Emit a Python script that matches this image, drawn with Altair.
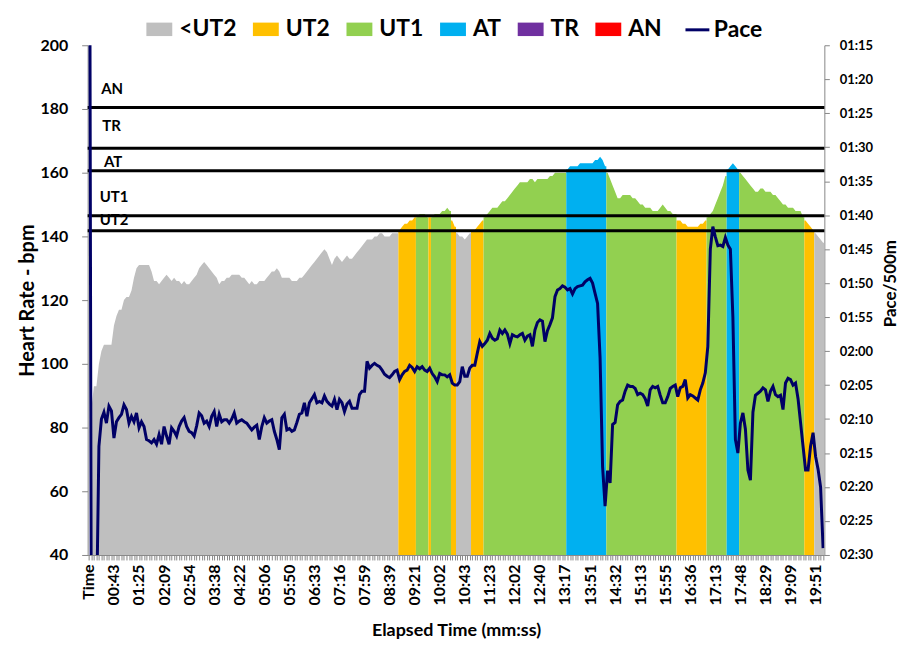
import json
import altair as alt
import pandas as pd

# ---------------- data ----------------
time_labels = ["Time", "00:43", "01:25", "02:09", "02:54", "03:38", "04:22", "05:06", "05:50", "06:33",
               "07:16", "07:59", "08:39", "09:21", "10:02", "10:43", "11:23", "12:02", "12:40", "13:17",
               "13:51", "14:32", "15:13", "15:55", "16:36", "17:13", "17:48", "18:29", "19:09", "19:51"]

hr = [
    0, 86, 93, 93, 100, 104, 106, 106, 106, 106,
    112, 115, 117, 117, 120, 121, 121, 123, 127, 130,
    131, 131, 131, 131, 131, 129, 126, 126, 125, 126,
    127, 128, 127, 126, 127, 126, 126, 125, 126, 125,
    125, 126, 127, 128, 130, 131, 132, 131, 130, 129,
    128, 127, 125, 126, 126, 127, 127, 128, 128, 128,
    128, 127, 127, 126, 125, 126, 125, 125, 126, 126,
    126, 127, 128, 129, 129, 130, 129, 127, 127, 127,
    127, 126, 126, 126, 127, 127, 128, 129, 130, 131,
    132, 133, 134, 135, 136, 135, 133, 131, 133, 134,
    133, 132, 133, 134, 133, 133, 134, 135, 136, 137,
    138, 139, 139, 139, 140, 140, 141, 141, 140, 140,
    140, 141, 141, 141, 142, 143, 144, 144, 145, 145,
    146, 146, 147, 147, 147, 146, 146, 146, 147, 147,
    147, 148, 148, 149, 148, 145, 143, 141, 140, 140,
    139, 140, 141, 142, 142, 143, 144, 145, 146, 147,
    148, 149, 149, 149, 150, 151, 151, 152, 153, 154,
    155, 156, 157, 157, 157, 157, 158, 158, 157, 158,
    158, 158, 158, 158, 159, 159, 160, 160, 160, 160,
    160, 161, 162, 162, 162, 162, 163, 163, 163, 163,
    163, 163, 164, 164, 165, 164, 162, 160, 158, 156,
    154, 152, 152, 153, 153, 153, 153, 152, 152, 151,
    150, 150, 149, 149, 149, 148, 148, 148, 149, 150,
    149, 148, 148, 147, 147, 145, 145, 144, 144, 143,
    143, 143, 143, 143, 144, 144, 145, 146, 147, 148,
    150, 152, 154, 156, 159, 161, 162, 163, 162, 161,
    160, 159, 158, 157, 156, 155, 154, 154, 155, 155,
    154, 154, 154, 153, 153, 152, 151, 150, 150, 149,
    149, 149, 148, 148, 148, 146, 145, 144, 143, 142,
    141, 140, 139, 138,
]

# pace per 500 m, in seconds
pace = [
    0, 170, 165, 160, 134, 130, 129, 130.6, 128.1, 128.8,
    132.8, 130.4, 129.8, 129.3, 127.9, 128.6, 130.6, 129.6, 130.4, 129.1,
    131.3, 130.4, 131.1, 133, 133.2, 133.5, 133, 133.7, 132.3, 133.7,
    131.1, 132.5, 133.7, 131.3, 131.8, 132.5, 131.1, 130.3, 129.8, 131.1,
    131.8, 132, 132.5, 131, 129.1, 129.5, 130.6, 130.3, 131.1, 129.6,
    128.9, 131.1, 129.3, 130.4, 130.1, 130.1, 130.6, 130, 129.1, 130.6,
    130.3, 130.1, 130.4, 130.6, 131.1, 131.6, 131.2, 130.9, 133, 131.1,
    129.8, 130.6, 130.3, 130.1, 131.8, 133, 134.5, 129.8, 129.3, 131.6,
    131.4, 131.8, 131.6, 130.5, 129.3, 129.1, 127.6, 129.6, 127.6, 127,
    126.4, 127.6, 127.4, 127.6, 126.6, 127.4, 127.8, 128.1, 127.1, 128.6,
    127.1, 127.6, 128.9, 127.8, 127.4, 128.4, 128.4, 128.4, 126.4, 125.9,
    125.9, 121.5, 122.5, 122.1, 121.8, 122.1, 122.3, 122.8, 123.4, 123.7,
    123.9, 123.5, 123, 122.8, 124.2, 123.5, 123, 122.8, 122.1, 122.4,
    123, 122.3, 122.6, 122.3, 122.8, 123, 122.5, 123.3, 123.8, 124.5,
    123.3, 123.5, 123.5, 123.8, 123.5, 124.7, 125, 125, 124.5, 122.3,
    123.7, 123.7, 122.5, 122.1, 122.1, 120.3, 118.6, 119.3, 118.9, 118.4,
    117.4, 118.1, 118.4, 118.2, 116.9, 117.4, 116.9, 117.5, 118.9, 117.6,
    117.8, 117.9, 117.6, 117.4, 118.4, 117.8, 117.6, 119.3, 116.9, 115.8,
    115.4, 115.6, 118.6, 117, 116.1, 115.1, 112, 111, 110.8, 110.4,
    110.6, 111, 110.8, 111.6, 110.8, 110.5, 110.4, 110.3, 109.8, 109.5,
    109.3, 110, 111.5, 113, 121, 137, 142.8, 137.6, 139.4, 130.8,
    130.5, 127.9, 127.4, 127.2, 125.9, 125, 125.2, 125.2, 125.5, 126.4,
    126.2, 126.4, 127, 128.1, 125.7, 125.2, 125.4, 125.2, 126.5, 127.6,
    127.6, 126.7, 125.5, 125.2, 125, 126.7, 125.4, 125.2, 124.2, 126.9,
    126.4, 126.6, 126.9, 127.2, 125.7, 124.7, 123.2, 119.3, 105, 101.7,
    103.2, 104.5, 104.4, 104.6, 103.3, 104.4, 105, 115, 133, 135,
    130.6, 129.1, 131.5, 137.5, 139, 129, 126.5, 126.2, 125.9, 125.4,
    125.7, 127.4, 125.9, 125.2, 126.4, 126.7, 126.5, 128.6, 124.7, 124,
    124.2, 125, 124.7, 127, 130.5, 134, 137.5, 137.5, 134, 132,
    135.5, 137.4, 140, 149,
]

# heart-rate zone of each stretch of samples (first sample index of each stretch)
zone_starts = [0, 124, 131, 136, 137, 145, 147, 153, 158, 191, 207, 235, 247, 255, 260, 286, 290]
zone_of_stretch = ["<UT2", "UT2", "UT1", "UT2", "UT1", "UT2", "<UT2", "UT2", "UT1",
                   "AT", "UT1", "UT2", "UT1", "AT", "UT1", "UT2", "<UT2"]

zone_names = ["<UT2", "UT2", "UT1", "AT", "TR", "AN"]
zone_colors = ["#BFBFBF", "#FFC000", "#92D050", "#00B0F0", "#7030A0", "#FF0000"]

threshold_names = ["AN", "TR", "AT", "UT1", "UT2"]
threshold_hr = [180.5, 167.7, 160.6, 146.5, 141.8]
label_pos_x = [5.4, 5.8, 6.5, 4.8, 4.8]
label_pos_hr = [186.2, 174.7, 163.3, 152.5, 145.2]

hr_ticks = list(range(40, 201, 20))
pace_ticks = list(range(75, 151, 5))

# ---------------- tables ----------------
N = len(hr)

# one filled area per stretch: sample centres plus the stretch's two category edges
area_rows = []
for s, start in enumerate(zone_starts):
    end = zone_starts[s + 1] - 1 if s + 1 < len(zone_starts) else N - 1
    z = zone_of_stretch[s]
    area_rows.append({"x": float(start), "hr": hr[start], "zone": z, "stretch": s})
    for i in range(start, end + 1):
        area_rows.append({"x": i + 0.5, "hr": hr[i], "zone": z, "stretch": s})
    area_rows.append({"x": float(end + 1), "hr": hr[end], "zone": z, "stretch": s})
df_area = pd.DataFrame(area_rows)

df_pace = pd.DataFrame({"pos": [i + 0.5 for i in range(N)], "pace": pace[:N], "series": ["Pace"] * N})
df_thr = pd.DataFrame({"thr": threshold_hr})
df_lbl = pd.DataFrame({"name": threshold_names, "lx": label_pos_x, "ly": label_pos_hr})

FONT = "Lato"
NAVY = "#000066"
AXIS_GREY = "#868686"

x_scale = alt.Scale(domain=[0, N], nice=False, zero=False)
hr_scale = alt.Scale(domain=[40, 200], nice=False, zero=False)
pace_scale = alt.Scale(domain=[75, 150], reverse=True, nice=False, zero=False)

labels_js = json.dumps(time_labels)
x_axis = alt.Axis(
    values=[i + 0.5 for i in range(N)],
    labelExpr=f"((datum.value - 0.5) % 10 == 0) ? {labels_js}[(datum.value - 0.5) / 10] : ''",
    labelAngle=270, labelAlign="right", labelBaseline="middle",
    labelFontSize=16, labelPadding=4, tickSize=5, labelOverlap=False,
    title="Elapsed Time (mm:ss)", titleFontSize=18, titleY=76, titleBaseline="middle",
    grid=False,
)
hr_axis = alt.Axis(
    values=hr_ticks, labelFontSize=16, labelPadding=14, tickSize=6,
    title="Heart Rate - bpm", titleFontSize=20, titleAngle=270, titleX=-60, titleY=256,
    titleAlign="center", titleBaseline="middle", grid=False,
)
pace_axis = alt.Axis(
    orient="right", values=pace_ticks,
    labelExpr="(floor(datum.value/60) < 10 ? '0' : '') + floor(datum.value/60) + ':' + "
              "(datum.value % 60 < 10 ? '0' : '') + (datum.value % 60)",
    labelFontSize=13, labelPadding=10, tickSize=5,
    title="Pace/500m", titleFontSize=17, titleAngle=270, titleX=66, titleY=239,
    titleAlign="center", titleBaseline="middle", grid=False,
)

areas = alt.Chart(df_area).mark_area(clip=True, interpolate="linear", opacity=1, fillOpacity=1).encode(
    x=alt.X("x:Q", scale=x_scale, axis=x_axis),
    y=alt.Y("hr:Q", scale=hr_scale, axis=hr_axis, stack=None),
    detail="stretch:N",
    color=alt.Color(
        "zone:N",
        scale=alt.Scale(domain=zone_names, range=zone_colors),
        legend=alt.Legend(
            title=None, orient="none", legendX=59, legendY=-29, direction="horizontal",
            symbolType="M-1,-0.52L1,-0.52L1,0.52L-1,0.52Z", symbolSize=676, symbolStrokeWidth=0,
            symbolOpacity=1, labelFontSize=23, labelOffset=7, columnPadding=16, padding=0,
            labelFont=FONT, labelFontWeight="bold", labelColor="black",
        ),
    ),
)

rules = alt.Chart(df_thr).mark_rule(color="black", strokeWidth=3).encode(
    y=alt.Y("thr:Q", scale=hr_scale, axis=hr_axis),
)

texts = alt.Chart(df_lbl).mark_text(
    align="left", baseline="middle", fontSize=15, fontWeight="bold", font=FONT, color="black"
).encode(
    x=alt.X("lx:Q", scale=x_scale, axis=x_axis),
    y=alt.Y("ly:Q", scale=hr_scale, axis=hr_axis),
    text="name:N",
)

line = alt.Chart(df_pace).mark_line(clip=True, strokeWidth=3).encode(
    x=alt.X("pos:Q", scale=x_scale, axis=x_axis),
    y=alt.Y("pace:Q", scale=pace_scale, axis=pace_axis),
    stroke=alt.Stroke(
        "series:N",
        scale=alt.Scale(domain=["Pace"], range=[NAVY]),
        legend=alt.Legend(
            title=None, orient="none", legendX=599, legendY=-29, direction="horizontal",
            symbolType="stroke", symbolSize=576, symbolStrokeWidth=3, symbolStrokeColor=NAVY,
            labelFontSize=23, labelOffset=3, padding=0,
            labelFont=FONT, labelFontWeight="bold", labelColor="black",
        ),
    ),
)

chart = alt.layer(alt.layer(areas, rules, texts), line).resolve_scale(y="independent").properties(
    width=740, height=512,
    autosize=alt.AutoSizeParams(type="none"),
    padding={"left": 80, "top": 36, "right": 78, "bottom": 90},
    background="white",
).configure_axis(
    labelFont=FONT, titleFont=FONT, labelFontWeight="bold", titleFontWeight="bold",
    labelColor="black", titleColor="black", domainColor=AXIS_GREY, tickColor=AXIS_GREY,
    domainWidth=1, tickWidth=1,
).configure_view(stroke=None)

chart.save("out.html", embed_options={"renderer": "svg", "actions": False})
